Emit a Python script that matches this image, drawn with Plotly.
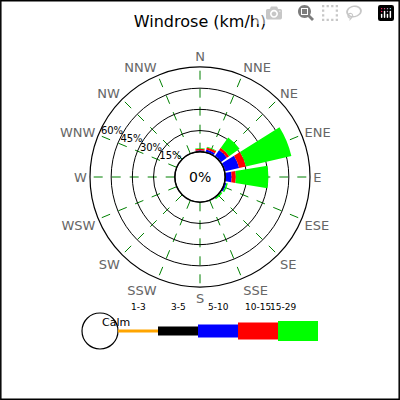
import plotly.graph_objects as go

# wind directions and frequency (%) per speed bin
directions = ['N', 'NNE', 'NE', 'ENE', 'E', 'ESE', 'SE', 'SSE',
              'S', 'SSW', 'SW', 'WSW', 'W', 'WNW', 'NW', 'NNW']
bins = ['1-3', '3-5', '5-10', '10-15', '15-29']
colors = ['orange', 'black', 'blue', 'red', '#00ff00']
s1_3 = [0, 0, 0, 0, 0, 0, 0, 0, 0, 0, 0, 0, 0, 0, 0, 0]
s3_5 = [0.5, 0.5, 0.5, 0.5, 0.5, 0.3, 0, 0, 0, 0, 0, 0, 0, 0, 0, 0]
s5_10 = [0.5, 1.5, 5, 10, 4, 1, 0.5, 0, 0, 0, 0, 0, 0, 0, 0, 0]
s10_15 = [1, 1.5, 2, 5, 3, 0, 0, 0, 0, 0, 0, 0, 0, 0, 0, 0]
s15_29 = [0.5, 0.5, 9, 33, 23, 1, 1, 0, 0, 0, 0, 0, 0, 0, 0, 0]
series = [s1_3, s3_5, s5_10, s10_15, s15_29]
rticks = [15, 30, 45, 60]

fig = go.Figure()
for name, vals, c in zip(bins, series, colors):
    fig.add_trace(go.Barpolar(r=vals, theta=directions, name=name,
                              marker_color=c, marker_line_width=0, width=0.85))

fig.update_layout(
    width=400, height=400, margin=dict(l=0, r=0, t=0, b=0),
    paper_bgcolor='white', showlegend=False, barmode='stack',
    font=dict(family='DejaVu Sans'),
    title=dict(text='Windrose (km/h)', x=0.5, y=0.96, xanchor='center',
               font=dict(size=16, color='black')),
    polar=dict(
        domain=dict(x=[0.225, 0.775], y=[0.2825, 0.8325]),
        hole=0.23, bgcolor='white',
        radialaxis=dict(range=[0, 60], tickvals=rticks,
                        ticktext=[f'{v}%' for v in rticks],
                        angle=157, tickangle=157, showline=False, ticks='',
                        gridcolor='black', gridwidth=1.2,
                        tickfont=dict(size=10, color='black')),
        angularaxis=dict(direction='clockwise', rotation=90,
                         gridcolor='green', griddash='dash', gridwidth=0.6,
                         linecolor='black', linewidth=1.2, ticks='',
                         tickfont=dict(size=13, color='#666666')),
    ),
    shapes=[
        dict(type='rect', xref='paper', yref='paper', x0=0.002, y0=0.002, x1=0.998, y1=0.998,
             line=dict(color='black', width=1.5)),
        dict(type='circle', xref='paper', yref='paper',
             x0=175/400, x1=225/400, y0=1-202/400, y1=1-152/400,
             line=dict(color='black', width=1.2)),
        dict(type='circle', xref='paper', yref='paper',
             x0=82/400, x1=118/400, y0=1-349/400, y1=1-313/400,
             line=dict(color='black', width=1.2)),
        dict(type='line', xref='paper', yref='paper',
             x0=118/400, x1=158/400, y0=1-331/400, y1=1-331/400,
             line=dict(color='orange', width=3)),
    ],
    annotations=[
        dict(text='0%', x=0.5, y=1-177/400, xref='paper', yref='paper',
             showarrow=False, font=dict(size=14, color='black')),
        dict(text='Calm', x=0.25, y=1-331/400, xref='paper', yref='paper',
             showarrow=False, font=dict(size=11, color='black')),
    ],
)

# legend boxes for speed bins
heights = [3, 9, 13, 17, 20]
for i, (name, c, h) in enumerate(zip(bins, colors, heights)):
    x0 = 118 + 40 * i
    if i > 0:
        fig.add_shape(type='rect', xref='paper', yref='paper',
                      x0=x0/400, x1=(x0+40)/400,
                      y0=1-(331+h/2)/400, y1=1-(331-h/2)/400,
                      fillcolor=c, line=dict(width=0))
    fig.add_annotation(text=name, x=(x0+20)/400, y=1-314/400, xref='paper',
                       yref='paper', showarrow=False,
                       font=dict(size=9, color='black'))

fig.write_html('out.html',
               post_script="document.body.style.margin='0';document.body.style.overflow='hidden';")
